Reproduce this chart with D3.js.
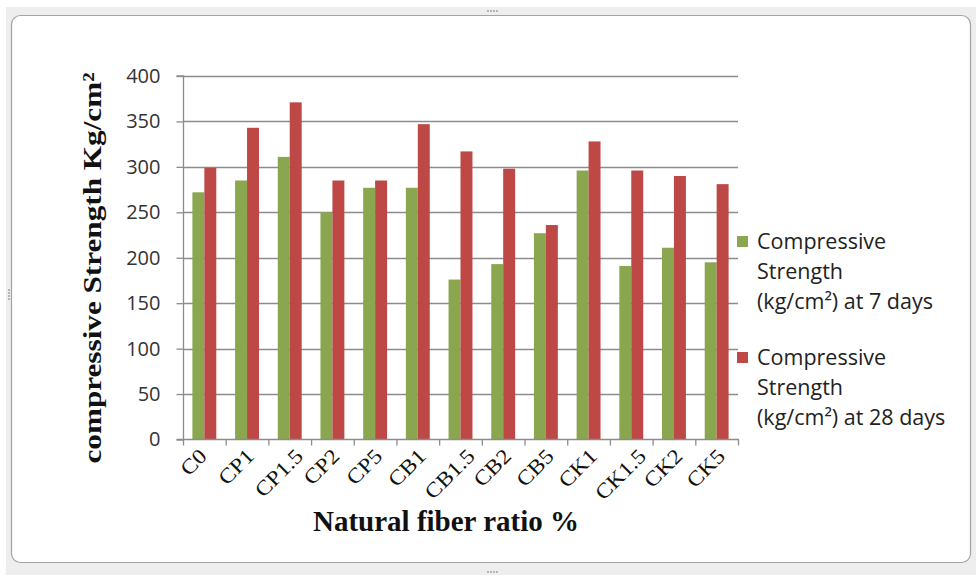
<!DOCTYPE html>
<html>
<head>
<meta charset="utf-8">
<script src="https://cdn.jsdelivr.net/npm/d3@7"></script>
<style>
  html, body { margin: 0; padding: 0; background: #ffffff; }
  svg { display: block; }
</style>
</head>
<body>
<svg id="chart" width="976" height="576"></svg>
<script>
// Mix designations along the x axis
const categories = ["C0", "CP1", "CP1.5", "CP2", "CP5", "CB1", "CB1.5", "CB2", "CB5", "CK1", "CK1.5", "CK2", "CK5"];
// Compressive strength (kg/cm²)
const strength7 = [272, 285, 311, 250, 277, 277, 176, 193, 227, 296, 191, 211, 195];
const strength28 = [299, 343, 371, 285, 285, 347, 317, 298, 236, 328, 296, 290, 281];
const legendLines = [
  ["Compressive", "Strength", "(kg/cm²) at 7 days"],
  ["Compressive", "Strength", "(kg/cm²) at 28 days"]
];
const yTicks = [0, 50, 100, 150, 200, 250, 300, 350, 400];
const colors = ["#8aa64e", "#be4845"];

const serif = "'Liberation Serif', 'Times New Roman', serif";
const sans = "'Open Sans', 'Noto Sans', sans-serif";

const svg = d3.select("#chart");

// Outer frame with a rounded chart border
svg.append("rect").attr("x", 6).attr("y", 7).attr("width", 970).attr("height", 568).attr("fill", "#eeeeee");
svg.append("rect").attr("x", 11.5).attr("y", 15.5).attr("width", 959).attr("height", 547)
  .attr("rx", 9).attr("fill", "#ffffff").attr("stroke", "#a3a3a3").attr("stroke-width", 1.2);
// resize handle dots
const handles = [[487, 10], [487, 571], [8, 289]];
handles.forEach(([hx, hy], i) => {
  for (let k = 0; k < 4; k++) {
    const dx = i < 2 ? k * 3 : 0, dy = i < 2 ? 0 : k * 3;
    svg.append("rect").attr("x", hx + dx).attr("y", hy + dy).attr("width", 2).attr("height", 2).attr("fill", "#b5b5b5");
  }
});

const plot = { left: 183, right: 738, top: 76, bottom: 439.5 };

const x = d3.scaleBand().domain(categories).range([plot.left, plot.right]).paddingInner(0).paddingOuter(0);
const y = d3.scaleLinear().domain([0, 400]).range([plot.bottom, plot.top]);

// Horizontal gridlines
svg.append("g").selectAll("line").data(yTicks.filter(d => d > 0)).join("line")
  .attr("x1", plot.left).attr("x2", plot.right)
  .attr("y1", d => Math.round(y(d)) + 0.5).attr("y2", d => Math.round(y(d)) + 0.5)
  .attr("stroke", "#8c8c8c").attr("stroke-width", 1.3);

// Bars: 7-day on the left, 28-day on the right of each category
const barW = x.bandwidth() * 0.28;
const groups = svg.append("g").selectAll("g").data(categories).join("g")
  .attr("transform", d => `translate(${x(d) + x.bandwidth() / 2},0)`);
[strength7, strength28].forEach((vals, s) => {
  groups.append("rect")
    .attr("x", s === 0 ? -barW : 0)
    .attr("width", barW)
    .attr("y", (d, i) => y(vals[i]))
    .attr("height", (d, i) => y(0) - y(vals[i]))
    .attr("fill", colors[s]);
});

// Y axis
const yAxis = svg.append("g").attr("transform", `translate(${plot.left + 0.5},0)`)
  .call(d3.axisLeft(y).tickValues(yTicks).tickSize(7).tickPadding(6));
yAxis.select(".domain").attr("stroke", "#8c8c8c").attr("stroke-width", 1.3).attr("d", `M-7,${plot.top}H0V${plot.bottom}H-7`);
yAxis.selectAll(".tick line").attr("stroke", "#8c8c8c").attr("stroke-width", 1.3);
yAxis.selectAll(".tick text").attr("font-family", sans)
  .attr("font-size", 20).attr("fill", "#333333").attr("x", -23);

// X axis with ticks at category boundaries
const xAxis = svg.append("g").attr("transform", `translate(0,${plot.bottom})`);
xAxis.append("line").attr("x1", plot.left).attr("x2", plot.right + 1).attr("y1", 0).attr("y2", 0)
  .attr("stroke", "#8c8c8c").attr("stroke-width", 1.3);
const boundaries = categories.map(c => x(c)).concat([plot.right]);
xAxis.selectAll("line.tk").data(boundaries).join("line").attr("class", "tk")
  .attr("x1", d => d + 0.5).attr("x2", d => d + 0.5).attr("y1", 0).attr("y2", 6)
  .attr("stroke", "#8c8c8c").attr("stroke-width", 1.3);
// Rotated category labels, centred horizontally just left of each band's middle
const stretch = 1.12;
xAxis.selectAll("text").data(categories).join("text")
  .attr("text-anchor", "end")
  .attr("font-family", serif).attr("font-size", 21)
  .attr("fill", "#111111").text(d => d)
  .each(function (d) {
    const len = this.getComputedTextLength() * stretch;
    const cx = x(d) + x.bandwidth() / 2 - 6 + 0.354 * len;
    d3.select(this).attr("transform", `translate(${cx},${18}) rotate(-45) scale(${stretch},1)`);
  });

// Axis titles
svg.append("text").attr("x", 446).attr("y", 531).attr("text-anchor", "middle")
  .attr("font-family", serif).attr("font-weight", "bold")
  .attr("font-size", 29).attr("fill", "#111111").text("Natural fiber ratio %");
svg.append("text").attr("transform", "translate(101,268) rotate(-90) scale(1.2,1)").attr("text-anchor", "middle")
  .attr("font-family", serif).attr("font-weight", "bold")
  .attr("font-size", 26).attr("fill", "#111111").text("compressive Strength Kg/cm²");

// Legend
const legend = svg.append("g").attr("font-family", sans).attr("font-size", 21.5).attr("fill", "#222222");
legendLines.forEach((lines, s) => {
  const top = 241 + s * 116;
  legend.append("rect").attr("x", 737).attr("y", top - 5).attr("width", 11).attr("height", 11).attr("fill", colors[s]);
  lines.forEach((ln, k) => {
    legend.append("text").attr("x", 757).attr("y", top + k * 30).attr("dy", "0.35em").text(ln);
  });
});
</script>
</body>
</html>
